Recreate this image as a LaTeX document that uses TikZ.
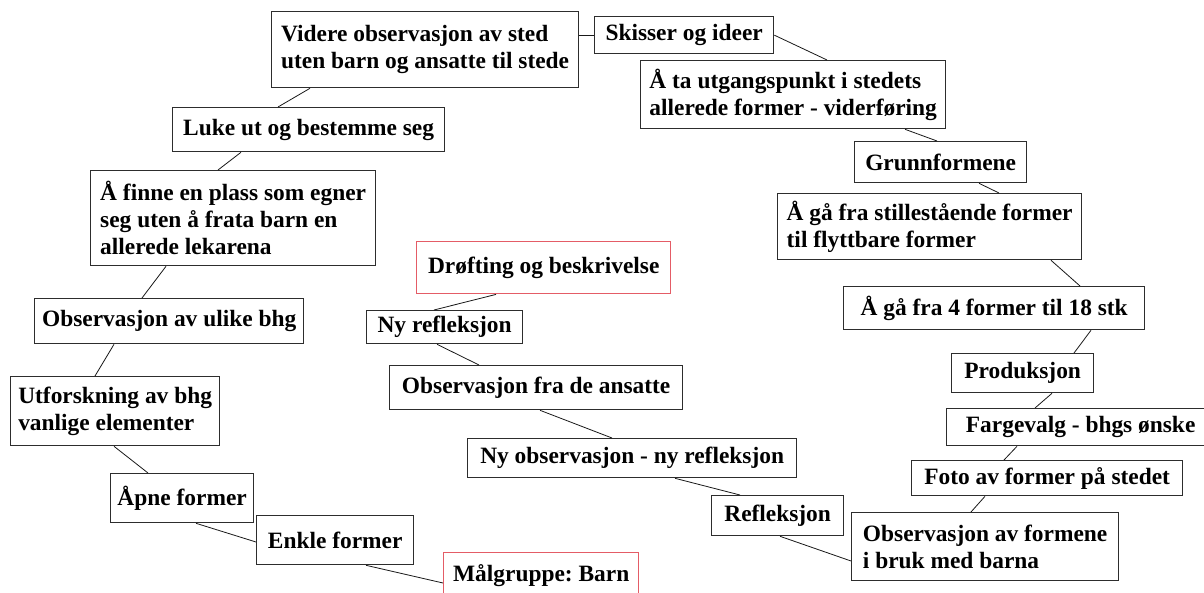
\documentclass[tikz,border=0pt]{standalone}
\usepackage{fontspec}
\setmainfont{Liberation Serif}
\usetikzlibrary{calc}
\frenchspacing
\definecolor{boxred}{RGB}{228,92,102}
\definecolor{boxgray}{RGB}{45,45,45}
\tikzset{
  box/.style={draw=boxgray, line width=1.3pt, fill=white, inner xsep=0pt, inner ysep=0pt,
    align=left, anchor=north west, font=\bfseries\fontsize{23.4}{26.8}\selectfont},
  redbox/.style={box, draw=boxred, line width=1.4pt},
  link/.style={draw=black!90, line width=0.8pt}
}
\newcommand{\bxat}[6]{\node[#1, minimum width=#4-#2, minimum height=#5-#3] (#6) at (#2,#3)}
\begin{document}
\begin{tikzpicture}[x=1pt,y=-1pt]
\useasboundingbox (0,0) rectangle (1204,593);
\clip (0,0) rectangle (1204,593);
\fill[white] (0,0) rectangle (1204,593);
% left arc
\bxat{box}{271}{11}{578}{87}{vid} {Videre observasjon av sted\\uten barn og ansatte til stede};
\bxat{box}{594}{16}{773}{53}{ski} {Skisser og ideer};
\bxat{box}{172}{107}{444}{151}{luk} {Luke ut og bestemme seg};
\bxat{box}{90}{170}{375}{265}{afi} {Å finne en plass som egner\\seg uten å frata barn en\\allerede lekarena};
\bxat{box}{34}{298}{303}{343}{obu} {Observasjon av ulike bhg};
\bxat{box}{10}{376}{219}{445}{utf} {Utforskning av bhg\\vanlige elementer};
\bxat{box}{110}{473}{253}{522}{apn} {Åpne former};
\bxat{box}{256}{515}{413}{564}{enk} {Enkle former};
\bxat{redbox}{443}{552}{638}{598}{mal} {Målgruppe: Barn};
% middle
\bxat{redbox}{416}{241}{670}{293}{dro} {Drøfting og beskrivelse};
\bxat{box}{366}{310}{522}{343}{nyr} {Ny refleksjon};
\bxat{box}{389}{365}{682}{409}{obd} {Observasjon fra de ansatte};
\bxat{box}{467}{438}{796}{477}{nyo} {Ny observasjon - ny refleksjon};
\bxat{box}{711}{495}{843}{535}{ref} {Refleksjon};
% right arc
\bxat{box}{640}{60}{945}{128}{ata} {Å ta utgangspunkt i stedets\\allerede former - viderføring};
\bxat{box}{854}{141}{1026}{182}{gru} {Grunnformene};
\bxat{box}{777}{193}{1081}{259}{aga} {Å gå fra stillestående former\\til flyttbare former};
\bxat{box}{843}{286}{1144}{329}{fir} {Å gå fra 4 former til 18 stk};
\bxat{box}{951}{353}{1093}{392}{pro} {Produksjon};
\bxat{box}{946}{408}{1214}{445}{far} {Fargevalg - bhgs ønske};
\bxat{box}{911}{460}{1182}{495}{fot} {Foto av former på stedet};
\bxat{box}{851}{512}{1118}{580}{obf} {Observasjon av formene\\i bruk med barna};
% connectors
\path[link] (ski.west -| vid.east) -- (ski.west);
\path[link] ($(vid.south west)+(39,0)$) -- ($(luk.north west)+(106,0)$);
\path[link] ($(luk.south west)+(69,0)$) -- ($(afi.north west)+(128,0)$);
\path[link] ($(afi.south west)+(76,0)$) -- ($(obu.north west)+(108,0)$);
\path[link] ($(obu.south west)+(80,0)$) -- ($(utf.north west)+(85,0)$);
\path[link] ($(utf.south west)+(104,0)$) -- ($(apn.north west)+(38,0)$);
\path[link] ($(apn.south west)+(86,0)$) -- ($(enk.north west)+(0,27)$);
\path[link] ($(enk.south west)+(110,0)$) -- ($(mal.north west)+(0,31)$);
\path[link] ($(dro.south west)+(80,0)$) -- ($(nyr.north west)+(68,0)$);
\path[link] ($(nyr.south west)+(71,0)$) -- ($(obd.north west)+(90,0)$);
\path[link] ($(obd.south west)+(151,0)$) -- ($(nyo.north west)+(145,0)$);
\path[link] ($(nyo.south west)+(208,0)$) -- ($(ref.north west)+(29,0)$);
\path[link] ($(ref.south west)+(69,0)$) -- ($(obf.north west)+(0,49)$);
\path[link] ($(obf.north west)+(120,0)$) -- ($(fot.south west)+(74,0)$);
\path[link] ($(fot.north west)+(93,0)$) -- ($(far.south west)+(71,0)$);
\path[link] ($(far.north west)+(89,0)$) -- ($(pro.south west)+(101,0)$);
\path[link] ($(pro.north west)+(123,0)$) -- ($(fir.south west)+(248,0)$);
\path[link] ($(fir.north west)+(237,0)$) -- ($(aga.south west)+(274,0)$);
\path[link] ($(aga.north west)+(222,0)$) -- ($(gru.south west)+(125,0)$);
\path[link] ($(gru.north west)+(83,0)$) -- ($(ata.south west)+(265,0)$);
\path[link] ($(ata.north west)+(187,0)$) -- (ski.east);
\end{tikzpicture}
\end{document}
